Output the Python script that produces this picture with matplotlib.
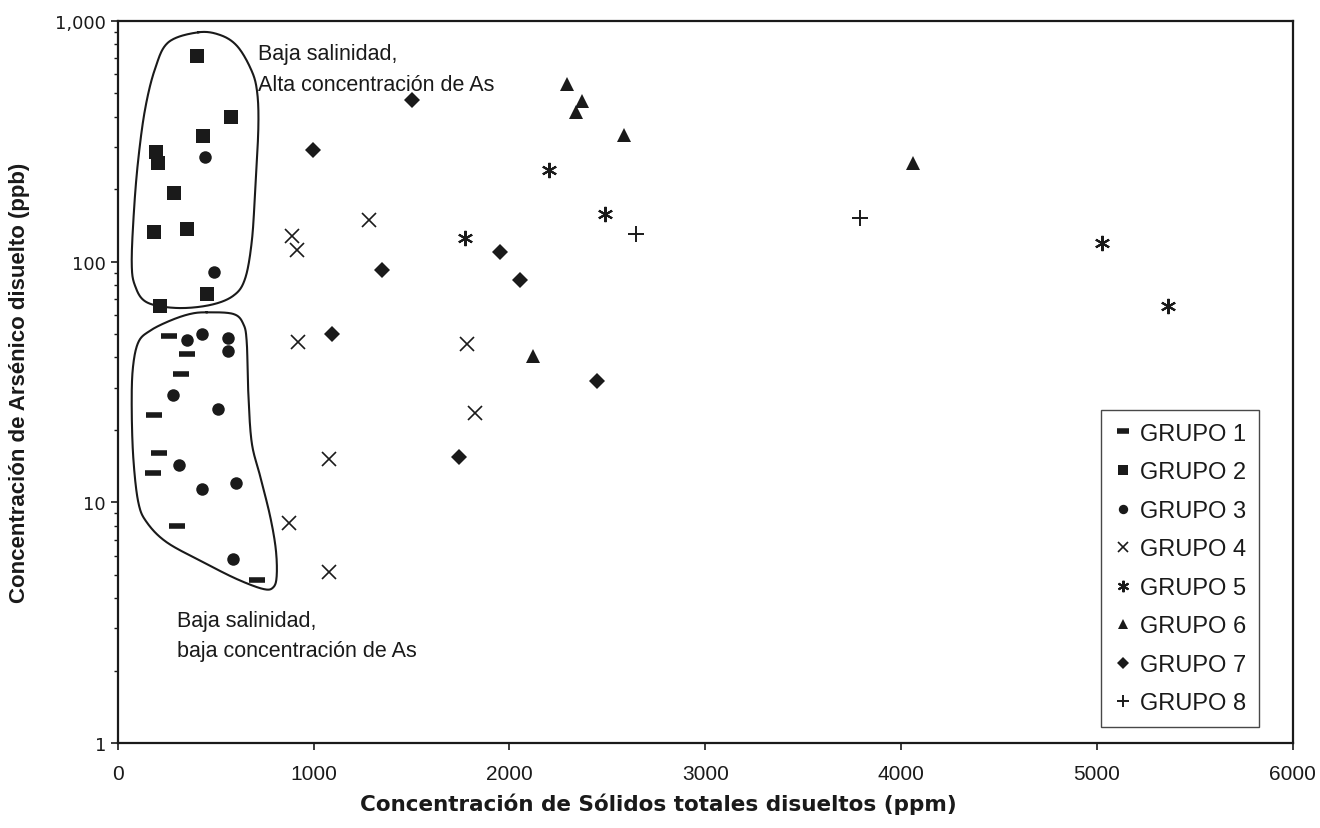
import numpy as np
import matplotlib
matplotlib.use("Agg")
import matplotlib.pyplot as plt
from matplotlib.ticker import FixedLocator, LogLocator, NullFormatter

# Sólidos totales disueltos (ppm) y arsénico disuelto (ppb) por grupo
g1_tds = [263, 355, 323, 187, 209, 179, 301, 713]
g1_as = [49.2, 41.3, 34.0, 23.1, 16.0, 13.2, 8.0, 4.77]

g2_tds = [406, 579, 437, 196, 207, 289, 185, 352, 454, 216]
g2_as = [717, 398, 333, 286, 257, 192, 133, 137, 73.4, 65.6]

g3_tds = [446, 493, 352, 432, 565, 565, 284, 511, 315, 603, 430, 590]
g3_as = [271, 90.8, 47.2, 50.0, 48.0, 42.6, 28.0, 24.4, 14.3, 12.0, 11.4, 5.81]

g4_tds = [889, 914, 1285, 919, 1785, 1825, 1081, 875, 1081]
g4_as = [128, 112, 149, 46.2, 45.5, 23.5, 15.1, 8.2, 5.15]

g5_tds = [1774, 2201, 2490, 5025, 5363]
g5_as = [125, 240, 158, 120, 65.6]

g6_tds = [2296, 2370, 2339, 2586, 2123, 4063]
g6_as = [547, 466, 417, 336, 40.6, 257]

g7_tds = [1505, 996, 1348, 1094, 1952, 2055, 2448, 1742]
g7_as = [471, 291, 92.3, 50.0, 110, 84.1, 32.0, 15.5]

g8_tds = [2647, 3791]
g8_as = [130, 152]

group_labels = ["GRUPO 1", "GRUPO 2", "GRUPO 3", "GRUPO 4",
                "GRUPO 5", "GRUPO 6", "GRUPO 7", "GRUPO 8"]

x_ticks = [0, 1000, 2000, 3000, 4000, 5000, 6000]
y_ticks = [1, 10, 100, 1000]
y_tick_labels = ["1", "10", "100", "1,000"]

SANS = "Liberation Sans"
INK = "#1a1a1a"

fig = plt.figure(figsize=(13.2, 8.29), dpi=100)
ax = fig.add_axes([0.0892, 0.1025, 0.8901, 0.8710])

styles = [
    dict(marker="_", ms=11, mew=4.0),
    dict(marker="s", ms=9.5, mew=0),
    dict(marker="o", ms=9.0, mew=0),
    dict(marker="x", ms=10, mew=1.2),
    dict(marker=(6, 2, 0), ms=11, mew=1.5),
    dict(marker="^", ms=10.5, mew=0),
    dict(marker="D", ms=8.3, mew=0),
    dict(marker="+", ms=11, mew=1.4),
]
series = [(g1_tds, g1_as), (g2_tds, g2_as), (g3_tds, g3_as), (g4_tds, g4_as),
          (g5_tds, g5_as), (g6_tds, g6_as), (g7_tds, g7_as), (g8_tds, g8_as)]

handles = []
for (xs, ys), st, lab in zip(series, styles, group_labels):
    h, = ax.plot(xs, ys, linestyle="none", color=INK, mec=INK, mfc=INK,
                 label=lab, zorder=3, **st)
    handles.append(h)

ax.set_yscale("log")
ax.set_xlim(0, 6000)
ax.set_ylim(1, 1000)

ax.xaxis.set_major_locator(FixedLocator(x_ticks))
ax.set_xticklabels([str(v) for v in x_ticks], fontsize=15, family=SANS, color=INK)
ax.yaxis.set_major_locator(FixedLocator(y_ticks))
ax.set_yticklabels(y_tick_labels, fontsize=13, family="DejaVu Sans", color=INK)
ax.yaxis.set_minor_locator(LogLocator(base=10, subs=np.arange(2, 10)))
ax.yaxis.set_minor_formatter(NullFormatter())

ax.tick_params(axis="both", which="major", direction="out", length=5,
               width=1.2, color=INK)
ax.tick_params(axis="x", pad=10)
ax.tick_params(axis="y", which="minor", direction="out", length=3,
               width=1.0, color=INK)

for sp in ax.spines.values():
    sp.set_linewidth(1.6)
    sp.set_color(INK)

ax.set_xlabel("Concentración de Sólidos totales disueltos (ppm)",
              fontsize=15.5, fontweight="bold", family="DejaVu Sans",
              color=INK)
ax.xaxis.set_label_coords(0.46, -0.068)
ax.set_ylabel("Concentración de Arsénico disuelto (ppb)",
              fontsize=16, fontweight="bold", family=SANS,
              color=INK, labelpad=18)


def smooth_closed(pts, n=30):
    """Closed Catmull-Rom curve through the given vertices."""
    p = np.asarray(pts, dtype=float)
    m = len(p)
    out = []
    t = np.linspace(0, 1, n, endpoint=False)[:, None]
    for i in range(m):
        p0, p1, p2, p3 = p[i - 1], p[i], p[(i + 1) % m], p[(i + 2) % m]
        seg = 0.5 * ((2 * p1) + (-p0 + p2) * t
                     + (2 * p0 - 5 * p1 + 4 * p2 - p3) * t ** 2
                     + (-p0 + 3 * p1 - 3 * p2 + p3) * t ** 3)
        out.append(seg)
    out = np.vstack(out)
    return np.vstack([out, out[:1]])


# Contornos dibujados a mano (fracción de los ejes)
upper_region = [
    (0.0686, 0.9843), (0.0431, 0.9705), (0.0317, 0.9335), (0.0233, 0.8781),
    (0.0175, 0.8089), (0.0139, 0.7396), (0.0119, 0.6658), (0.0147, 0.6334),
    (0.0247, 0.6104), (0.0502, 0.6025), (0.0786, 0.6066), (0.0984, 0.6195),
    (0.1083, 0.6427), (0.1140, 0.6935), (0.1169, 0.7627), (0.1197, 0.8550),
    (0.1183, 0.9058), (0.1126, 0.9359), (0.1013, 0.9658), (0.0871, 0.9806),
]
lower_region = [
    (0.0757, 0.5965), (0.0984, 0.5942), (0.1069, 0.5803), (0.1098, 0.5550),
    (0.1111, 0.4857), (0.1140, 0.4165), (0.1211, 0.3702), (0.1296, 0.3148),
    (0.1345, 0.2687), (0.1353, 0.2318), (0.1324, 0.2157), (0.1239, 0.2133),
    (0.1013, 0.2271), (0.0729, 0.2503), (0.0417, 0.2780), (0.0247, 0.3057),
    (0.0175, 0.3334), (0.0133, 0.3934), (0.0119, 0.4626), (0.0128, 0.5180),
    (0.0175, 0.5550), (0.0275, 0.5710), (0.0445, 0.5849), (0.0615, 0.5942),
]
for region in (upper_region, lower_region):
    c = smooth_closed(region)
    ax.plot(c[:, 0], c[:, 1], transform=ax.transAxes, color=INK,
            lw=1.5, zorder=2, solid_joinstyle="round")

ax.text(0.1194, 0.9543, "Baja salinidad,", transform=ax.transAxes,
        fontsize=15.5, family=SANS, color=INK, va="center", ha="left")
ax.text(0.1194, 0.9127, "Alta concentración de As", transform=ax.transAxes,
        fontsize=15.5, family=SANS, color=INK, va="center", ha="left")
ax.text(0.0502, 0.1694, "Baja salinidad,", transform=ax.transAxes,
        fontsize=15.5, family=SANS, color=INK, va="center", ha="left")
ax.text(0.0502, 0.1278, "baja concentración de As", transform=ax.transAxes,
        fontsize=15.5, family=SANS, color=INK, va="center", ha="left")

leg = ax.legend(handles=handles, loc="upper left",
                bbox_to_anchor=(0.8366, 0.4616), frameon=True,
                fancybox=False, shadow=False, borderpad=0.55,
                labelspacing=0.7, handlelength=0.8, handletextpad=0.3,
                borderaxespad=0, markerscale=0.75,
                prop={"family": SANS, "size": 17})
leg.get_frame().set_edgecolor(INK)
leg.get_frame().set_linewidth(1.0)
for t in leg.get_texts():
    t.set_color(INK)

fig.savefig("out.png", dpi=100, facecolor="white")
